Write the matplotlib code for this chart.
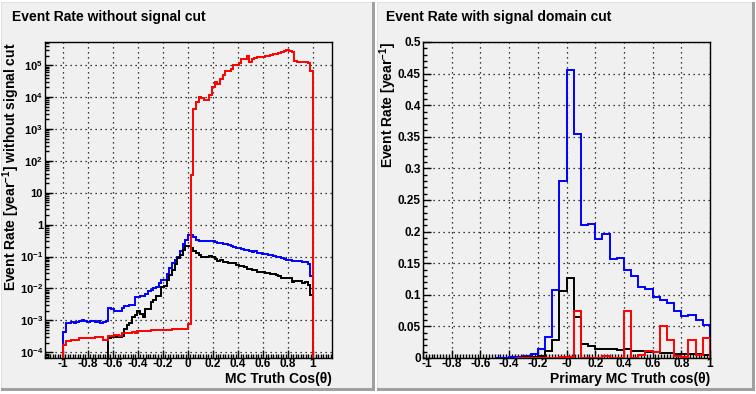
import numpy as np
import matplotlib
matplotlib.use("Agg")
import matplotlib.pyplot as plt
from matplotlib.ticker import MultipleLocator, LogLocator, NullFormatter
from matplotlib.patches import Rectangle
from matplotlib.transforms import ScaledTranslation

plt.rcParams['font.family'] = ['Liberation Sans', 'DejaVu Sans']
plt.rcParams['font.weight'] = 'bold'
plt.rcParams['mathtext.fontset'] = 'custom'
plt.rcParams['mathtext.rm'] = 'Liberation Sans:bold'
plt.rcParams['mathtext.it'] = 'Liberation Sans:bold'
plt.rcParams['mathtext.bf'] = 'Liberation Sans:bold'

# ---- left pad: 94 bins over [-1, 1], event rate without signal cut ----
nbins_left = 94
blue_left = ([4.3e-4]
             + [8.4e-4, 8.4e-4, 9.0e-4, 8.4e-4, 9.0e-4, 9.6e-4, 1.06e-3, 9.2e-4,
                8.6e-4, 9.2e-4, 9.6e-4, 9.0e-4, 9.6e-4, 8.4e-4, 9.0e-4, 9.6e-4]
             + [2.5e-3, 2.3e-3, 2.0e-3, 1.9e-3, 1.9e-3, 2.4e-3, 2.9e-3, 2.9e-3, 3.0e-3, 3.1e-3,
                5.3e-3, 5.5e-3, 5.9e-3, 6.0e-3, 6.9e-3, 8.2e-3, 9.2e-3, 1.0e-2, 1.1e-2, 1.45e-2,
                1.9e-2, 1.8e-2, 2.9e-2, 4.5e-2, 6.3e-2, 7.9e-2, 0.1, 0.15, 0.24, 0.33]
             + [0.47, 0.46, 0.40, 0.34, 0.31, 0.30, 0.30, 0.30, 0.30, 0.30,
                0.29, 0.27, 0.26, 0.25, 0.24, 0.225, 0.21, 0.205, 0.19, 0.18,
                0.17, 0.16, 0.155, 0.15, 0.14, 0.15, 0.13, 0.13, 0.12, 0.12,
                0.115, 0.11, 0.105, 0.10, 0.095, 0.09, 0.085, 0.08, 0.08, 0.075,
                0.073, 0.07, 0.07, 0.068, 0.065, 0.06, 0.024])
black_left = ([0.0] * 17
              + [2.7e-4, 3.0e-4, 3.2e-4, 3.0e-4, 3.0e-4, 3.3e-4, 5.5e-4, 7e-4, 8.5e-4, 1.3e-3,
                 1.5e-3, 1.9e-3, 1.6e-3, 1.3e-3, 2.2e-3, 2.3e-3, 3.8e-3, 4.2e-3, 5.7e-3, 6.0e-3,
                 1.1e-2, 1.2e-2, 1.9e-2, 2.6e-2, 3.7e-2, 6e-2, 8.7e-2, 0.11, 0.158, 0.21]
              + [0.22, 0.19, 0.15, 0.13, 0.11, 0.094, 0.094, 0.098, 0.103, 0.094,
                 0.081, 0.075, 0.078, 0.068, 0.068, 0.062, 0.064, 0.064, 0.056, 0.051,
                 0.051, 0.046, 0.0395, 0.042, 0.0375, 0.0375, 0.033, 0.033, 0.033, 0.031,
                 0.031, 0.028, 0.028, 0.026, 0.0243, 0.022, 0.0205, 0.0205, 0.0205, 0.0162,
                 0.0169, 0.0169, 0.0169, 0.015, 0.0162, 0.0127, 0.0062])
red_left = ([1.7e-4, 2.3e-4, 2.3e-4, 2.5e-4, 2.5e-4, 2.5e-4]
            + [2.7e-4] * 6 + [2.9e-4] * 3 + [2.5e-4] * 2
            + [3.2e-4, 3.2e-4, 3.5e-4, 3.5e-4, 3.2e-4]
            + [3.9e-4] * 4 + [4.2e-4, 4.0e-4] + [4.5e-4] * 5 + [4.9e-4] * 4
            + [5.1e-4] * 4 + [5.4e-4] * 5 + [5.5e-4, 7.8e-4]
            + [35.0]
            + [4.1e3, 7.1e3, 9.8e3, 9.0e3, 7.8e3, 7.8e3, 1.15e4, 2.0e4, 2.9e4, 2.5e4,
               3.8e4, 4.9e4, 6.5e4, 6.5e4, 7.5e4, 9.8e4, 9.8e4, 1.13e5, 1.5e5, 1.5e5,
               1.87e5, 1.21e5, 1.5e5, 1.66e5, 1.75e5, 1.83e5, 1.83e5, 1.9e5, 1.9e5, 2.06e5,
               2.2e5, 2.3e5, 2.4e5, 2.56e5, 2.75e5, 2.95e5, 2.85e5, 2.6e5, 1.3e5, 1.25e5,
               1.22e5, 1.22e5, 1.22e5, 1.2e5, 6.5e4])

# ---- right pad: 40 bins over [-1, 1], event rate with signal domain cut ----
nbins_right = 40
blue_right = [0.0] * 10 + [0.0003, 0.0005, 0.001, 0.002, 0.003, 0.007, 0.015, 0.034, 0.108, 0.28,
                           0.455, 0.355, 0.2105, 0.212, 0.188, 0.196, 0.157, 0.158, 0.140, 0.1295,
                           0.112, 0.1095, 0.0963, 0.092, 0.0868, 0.0742, 0.0663, 0.0684, 0.0595, 0.0526]
black_right = [0.0] * 13 + [0.0005, 0.001, 0.0015, 0.0026, 0.0105, 0.029, 0.106, 0.127, 0.065, 0.0227,
                            0.019, 0.0148, 0.0137, 0.0137, 0.013, 0.0145, 0.0105, 0.0105, 0.0095, 0.0095,
                            0.0084, 0.0084, 0.0069, 0.0069, 0.006, 0.006, 0.005]
red_right = [0.0] * 13 + [0.0003, 0.0003, 0.0005, 0.0005, 0.0005, 0.0007, 0.0008, 0.0008, 0.075, 0.0005,
                          0.0005, 0.0005, 0.0027, 0.0005, 0.0005, 0.0737, 0.0005, 0.004, 0.011, 0.0095,
                          0.05, 0.028, 0.0027, 0.002, 0.028, 0.004, 0.032]

xticks = [-1, -0.8, -0.6, -0.4, -0.2, 0, 0.2, 0.4, 0.6, 0.8, 1]
xticklabels_left = ['-1', '-0.8', '-0.6', '-0.4', '-0.2', '0', '0.2', '0.4', '0.6', '0.8', '1']
xticklabels_right = ['-1', '-0.8', '-0.6', '-0.4', '-0.2', '-0', '0.2', '0.4', '0.6', '0.8', '1']
yticks_left = [1e-4, 1e-3, 1e-2, 1e-1, 1, 10, 1e2, 1e3, 1e4, 1e5]
yticklabels_left = [r'$10^{-4}$', r'$10^{-3}$', r'$10^{-2}$', r'$10^{-1}$', '1', '10',
                    r'$10^{2}$', r'$10^{3}$', r'$10^{4}$', r'$10^{5}$']
yticks_right = [0, 0.05, 0.1, 0.15, 0.2, 0.25, 0.3, 0.35, 0.4, 0.45, 0.5]
yticklabels_right = ['0', '0.05', '0.1', '0.15', '0.2', '0.25', '0.3', '0.35', '0.4', '0.45', '0.5']

W, H = 756, 394
padcol = '#f0f0f0'
tickfs = 8.5
labfs = 10
fig = plt.figure(figsize=(W / 100, H / 100), dpi=100, facecolor='white')


def pad(x0, y0, x1, y1):
    # ROOT style pad: dark shadow bottom/right, light top/left
    fig.add_artist(Rectangle((x0 / W, 1 - y1 / H), (x1 - x0) / W, (y1 - y0) / H,
                             transform=fig.transFigure, color='#a0a0a0', lw=0, zorder=-3))
    fig.add_artist(Rectangle((x0 / W, 1 - (y1 - 3) / H), (x1 - x0 - 3) / W, (y1 - y0 - 3) / H,
                             transform=fig.transFigure, color='#e0e0e0', lw=0, zorder=-2))
    fig.add_artist(Rectangle(((x0 + 1) / W, 1 - (y1 - 3) / H), (x1 - x0 - 4) / W, (y1 - y0 - 4) / H,
                             transform=fig.transFigure, color=padcol, lw=0, zorder=-1))


pad(1, 2, 375, 391)
pad(377, 2, 755, 391)


def axes_px(x0, y0, x1, y1):
    return fig.add_axes([x0 / W, 1 - y1 / H, (x1 - x0) / W, (y1 - y0) / H])


def style(ax):
    ax.set_facecolor(padcol)
    for s in ax.spines.values():
        s.set_linewidth(1.0)
        s.set_color('black')
    ax.tick_params(which='both', direction='in', top=False, right=False, width=1.0)
    ax.tick_params(axis='y', pad=1.5)
    ax.tick_params(axis='x', pad=0)
    ax.tick_params(which='major', length=5.8)
    ax.tick_params(which='minor', length=2.9)
    ax.grid(True, which='major', color='black', linestyle=(0, (1, 3)), linewidth=0.9)


def hist(ax, vals, edges, color, base):
    vals = np.asarray(vals, dtype=float)
    nz = np.nonzero(vals)[0]
    i0, i1 = nz[0], nz[-1] + 1
    ax.stairs(vals[i0:i1], edges[i0:i1 + 1], color=color, lw=1.4, baseline=base, zorder=3)


# left panel
ax1 = axes_px(45, 42, 332, 358)
edges_l = np.linspace(-1, 1, nbins_left + 1)
hist(ax1, blue_left, edges_l, 'blue', 1e-7)
hist(ax1, black_left, edges_l, 'black', 1e-7)
hist(ax1, red_left, edges_l, 'red', 1e-7)
ax1.set_yscale('log')
ax1.set_xlim(-1.144, 1.152)
ax1.set_ylim(6.6e-5, 5.3e5)
ax1.set_xticks(xticks, labels=xticklabels_left, fontweight='bold', fontsize=tickfs)
ax1.xaxis.set_minor_locator(MultipleLocator(0.02))
ax1.set_yticks(yticks_left, labels=yticklabels_left, fontweight='bold', fontsize=8)
ax1.yaxis.set_minor_locator(LogLocator(base=10, subs=np.arange(2, 10), numticks=20))
ax1.yaxis.set_minor_formatter(NullFormatter())
style(ax1)
ax1.set_ylabel(r'Event Rate [year$^{-1}$] without signal cut', fontsize=labfs, fontweight='bold', loc='top')
ax1.yaxis.set_label_coords(-0.081, 1.0)
ax1.set_xlabel('MC Truth Cos(θ)', fontsize=labfs, fontweight='bold', loc='right')
ax1.xaxis.set_label_coords(1.0, -0.045)

# right panel
ax2 = axes_px(423, 42, 710, 358)
edges_r = np.linspace(-1, 1, nbins_right + 1)
hist(ax2, blue_right, edges_r, 'blue', 0)
hist(ax2, black_right, edges_r, 'black', 0)
hist(ax2, red_right, edges_r, 'red', 0)
ax2.set_xlim(-1, 1)
ax2.set_ylim(0, 0.5)
ax2.set_xticks(xticks, labels=xticklabels_right, fontweight='bold', fontsize=tickfs)
ax2.xaxis.set_minor_locator(MultipleLocator(0.02))
ax2.set_yticks(yticks_right, labels=yticklabels_right, fontweight='bold', fontsize=tickfs)
ax2.yaxis.set_minor_locator(MultipleLocator(0.01))
style(ax2)
# nudge the "-1" label a little right so it clears the "0" of the y axis
first = ax2.get_xticklabels()[0]
first.set_transform(first.get_transform() + ScaledTranslation(3.5 / 100, 0, fig.dpi_scale_trans))
ax2.set_ylabel(r'Event Rate [year$^{-1}$]', fontsize=labfs, fontweight='bold', loc='top')
ax2.yaxis.set_label_coords(-0.083, 1.0)
ax2.set_xlabel('Primary MC Truth cos(θ)', fontsize=labfs, fontweight='bold', loc='right')
ax2.xaxis.set_label_coords(1.0, -0.045)

fig.text(12 / W, 1 - 17 / H, 'Event Rate without signal cut', fontsize=10, fontweight='bold', va='center')
fig.text(386 / W, 1 - 17 / H, 'Event Rate with signal domain cut', fontsize=10, fontweight='bold', va='center')

fig.savefig('out.png', dpi=100, facecolor='white')
